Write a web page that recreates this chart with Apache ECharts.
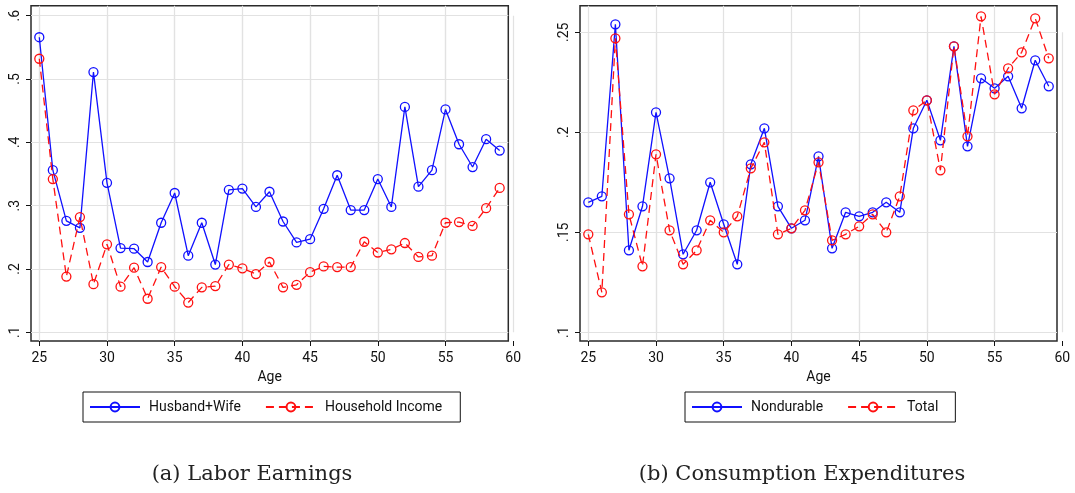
<!DOCTYPE html>
<html>
<head>
<meta charset="utf-8">
<title>Labor Earnings / Consumption Expenditures</title>
<script src="https://cdn.jsdelivr.net/npm/echarts@6.0.0/dist/echarts.min.js"></script>
<style>
html,body{margin:0;padding:0;background:#fff;}
#chart{width:1075px;height:493px;}
</style>
</head>
<body>
<div id="chart"></div>
<script>
/* data */
var ages = [25,26,27,28,29,30,31,32,33,34,35,36,37,38,39,40,41,42,43,44,45,46,47,48,49,50,51,52,53,54,55,56,57,58,59];
var husbandWife = [0.566,0.356,0.276,0.265,0.511,0.336,0.233,0.232,0.211,0.273,0.320,0.221,0.273,0.207,0.325,0.327,0.298,0.322,0.275,0.242,0.247,0.295,0.348,0.293,0.293,0.342,0.298,0.456,0.330,0.356,0.452,0.397,0.361,0.405,0.387];
var householdIncome = [0.532,0.342,0.188,0.282,0.176,0.239,0.172,0.202,0.153,0.203,0.172,0.147,0.171,0.173,0.207,0.201,0.192,0.211,0.171,0.175,0.195,0.204,0.203,0.203,0.243,0.226,0.231,0.241,0.219,0.221,0.273,0.274,0.268,0.296,0.328];
var nondurable = [0.165,0.168,0.254,0.141,0.163,0.210,0.177,0.139,0.151,0.175,0.154,0.134,0.184,0.202,0.163,0.152,0.156,0.188,0.142,0.160,0.158,0.160,0.165,0.160,0.202,0.216,0.196,0.243,0.193,0.227,0.222,0.228,0.212,0.236,0.223];
var total = [0.149,0.120,0.247,0.159,0.133,0.189,0.151,0.134,0.141,0.156,0.150,0.158,0.182,0.195,0.149,0.152,0.161,0.185,0.146,0.149,0.153,0.159,0.150,0.168,0.211,0.216,0.181,0.243,0.198,0.258,0.219,0.232,0.240,0.257,0.237];

var ageTicks = [25,30,35,40,45,50,55,60];
var earningsTicks = [0.1,0.2,0.3,0.4,0.5,0.6];
var consumptionTicks = [0.1,0.15,0.2,0.25];

var BLUE = '#1010ff', RED = '#ff1010';
var FONT = 'Roboto';
var GRID_COLOR = '#e2e2e2';

/**
 * 面板: 外框 [x0,y0,x1,y1], 刻度像素位置, y 刻度
 */
var panels = [
    {box:[31,5.7,508.3,341], xTickPx:[39.3,513.2], yTickPx:[332.3,15.7], yTicks:earningsTicks, ySplit:5,
     names:['Husband+Wife','Household Income'], values:[husbandWife,householdIncome],
     legend:{left:83, top:392, padRight:18}, caption:{text:'(a) Labor Earnings', x:252}},
    {box:[580,5.7,1057,341], xTickPx:[588.3,1062.3], yTickPx:[332.3,32.3], yTicks:consumptionTicks, ySplit:3,
     names:['Nondurable','Total'], values:[nondurable,total],
     legend:{left:685, top:392, padRight:17}, caption:{text:'(b) Consumption Expenditures', x:802}}
];

function pairs(xs, ys) {
    var out = [];
    for (var i = 0; i < xs.length; i++) out.push([xs[i], ys[i]]);
    return out;
}

function yFmt(v) {
    return String(+v.toFixed(2)).replace(/^0\./, '.');
}

var grids = [], xAxes = [], yAxes = [], series = [], legends = [], graphics = [];

panels.forEach(function (p, i) {
    var xLo = ageTicks[0], xHi = ageTicks[ageTicks.length - 1];
    var yLo = p.yTicks[0], yHi = p.yTicks[p.yTicks.length - 1];
    var pxX = (p.xTickPx[1] - p.xTickPx[0]) / (xHi - xLo);
    var pxY = (p.yTickPx[0] - p.yTickPx[1]) / (yHi - yLo);
    var b = p.box;
    // 外框对应的数值范围
    var boxXMin = xLo - (p.xTickPx[0] - b[0]) / pxX;
    var boxXMax = xLo + (b[2] - p.xTickPx[0]) / pxX;
    var boxYMin = yLo - (b[3] - p.yTickPx[0]) / pxY;
    var boxYMax = yHi + (p.yTickPx[1] - b[1]) / pxY;

    // grid A: plot box with data + grid lines
    grids.push({left:b[0], top:b[1], width:b[2]-b[0], height:b[3]-b[1], show:true,
        borderColor:'#2a2a2a', borderWidth:1.5, backgroundColor:'transparent', outerBoundsMode:'none'});
    // grid B: tick range, only labels and ticks
    grids.push({left:p.xTickPx[0], top:p.yTickPx[1], width:p.xTickPx[1]-p.xTickPx[0],
        height:p.yTickPx[0]-p.yTickPx[1], show:false, outerBoundsMode:'none'});

    var a = i * 2;
    xAxes.push({type:'value', gridIndex:a, min:boxXMin, max:boxXMax, splitNumber:7,
        axisLine:{show:false}, axisTick:{show:false}, axisLabel:{show:false},
        splitLine:{show:true, showMinLine:false, showMaxLine:false, lineStyle:{color:GRID_COLOR, width:1.2}},
        name:'Age', nameLocation:'middle', nameGap:29,
        nameTextStyle:{fontFamily:FONT, fontSize:14, color:'#111'}});
    yAxes.push({type:'value', gridIndex:a, min:boxYMin, max:boxYMax, splitNumber:p.ySplit,
        axisLine:{show:false}, axisTick:{show:false}, axisLabel:{show:false},
        splitLine:{show:true, showMinLine:false, showMaxLine:false, lineStyle:{color:GRID_COLOR, width:1.2}}});

    xAxes.push({type:'value', gridIndex:a+1, min:xLo, max:xHi, interval:ageTicks[1]-ageTicks[0],
        offset:b[3]-p.yTickPx[0],
        axisLine:{show:false},
        axisTick:{show:true, length:5, lineStyle:{color:'#111', width:1}},
        axisLabel:{show:true, margin:10, fontFamily:FONT, fontSize:14, color:'#111'},
        splitLine:{show:true, lineStyle:{color:GRID_COLOR, width:1.2}}});
    yAxes.push({type:'value', gridIndex:a+1, min:yLo, max:yHi, interval:p.yTicks[1]-p.yTicks[0],
        offset:p.xTickPx[0]-b[0],
        axisLine:{show:false},
        axisTick:{show:true, length:5, lineStyle:{color:'#111', width:1}},
        axisLabel:{show:true, rotate:90, margin:9, fontFamily:FONT, fontSize:14, color:'#111', formatter:yFmt},
        splitLine:{show:false}});

    p.names.forEach(function (name, k) {
        var col = k === 0 ? BLUE : RED;
        series.push({type:'line', name:name, xAxisIndex:a, yAxisIndex:a,
            data:pairs(ages, p.values[k]),
            symbol:'circle', symbolSize:9, showSymbol:true, clip:false,
            itemStyle:{color:'rgba(255,255,255,0)', borderColor:col, borderWidth:1.3},
            lineStyle:{color:col, width:1.3, type:k === 0 ? 'solid' : [8,5]},
            emphasis:{disabled:true}, z:2 + k});
    });

    legends.push({data:p.names, left:p.legend.left, top:p.legend.top, orient:'horizontal',
        padding:[8,p.legend.padRight,8,6], itemWidth:50, itemHeight:11, itemGap:24,
        borderColor:'#111', borderWidth:1, selectedMode:false,
        textStyle:{fontFamily:FONT, fontSize:14, color:'#111', padding:[0,0,0,4]}});

    graphics.push({type:'text', x:p.caption.x, y:475,
        style:{text:p.caption.text, align:'center', verticalAlign:'middle',
            fontFamily:'DejaVu Serif', fontSize:21, fill:'#222'}});
});

var chart = echarts.init(document.getElementById('chart'));
chart.setOption({
    animation:false,
    backgroundColor:'#fff',
    grid:grids,
    xAxis:xAxes,
    yAxis:yAxes,
    legend:legends,
    series:series,
    graphic:graphics
});
</script>
</body>
</html>
